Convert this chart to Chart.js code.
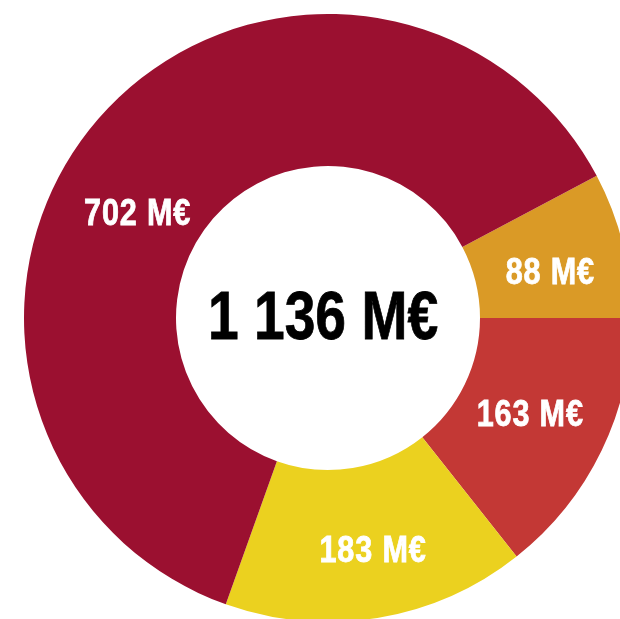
<!DOCTYPE html>
<html>
<head>
<meta charset="utf-8">
<script src="https://cdn.jsdelivr.net/npm/chart.js@4"></script>
<style>
    html, body { margin: 0; padding: 0; background: #fff; overflow: hidden; }
    body { width: 620px; height: 619px; position: relative; }
    #budgetDonut { position: absolute; left: 24px; top: 14px; }
</style>
</head>
<body>
<canvas id="budgetDonut" width="608" height="608"></canvas>
<script>
// slice values in M€, clockwise from the upper-right edge
const categories = ['Poste A', 'Poste B', 'Poste C', 'Poste D'];
const amounts = [88, 163, 183, 702];
const sliceLabels = ['88 M€', '163 M€', '183 M€', '702 M€'];
const totalLabel = '1 136 M€';

const sliceColors = ['#da9a26', '#c33835', '#ebd11f', '#9b1030'];
// small nudges (px) applied to the default label anchor of each slice
const labelNudge = [[1, 11], [-3, -1], [8, 9], [-18, 46]];

const total = amounts.reduce((a, b) => a + b, 0);
const labelFont = 'bold 36px "Liberation Sans", Arial, sans-serif';
const totalFont = 'bold 69px "Liberation Sans", Arial, sans-serif';

// no condensed face installed: squeeze the bold face horizontally
function narrowText(ctx, text, x, y, squeeze, thicken) {
    ctx.save();
    ctx.translate(x, y);
    ctx.scale(squeeze, 1);
    ctx.fillText(text, 0, 0);
    if (thicken) {
        ctx.lineWidth = thicken;
        ctx.strokeStyle = ctx.fillStyle;
        ctx.strokeText(text, 0, 0);
    }
    ctx.restore();
}

const sliceText = {
    id: 'sliceText',
    afterDraw(chart) {
        const ctx = chart.ctx;
        const arcs = chart.getDatasetMeta(0).data;
        ctx.save();
        ctx.textAlign = 'center';
        ctx.textBaseline = 'middle';
        ctx.fillStyle = '#ffffff';
        ctx.font = labelFont;
        ctx.letterSpacing = '1px';
        arcs.forEach((arc, i) => {
            const p = arc.tooltipPosition();
            narrowText(ctx, sliceLabels[i], p.x + labelNudge[i][0], p.y + labelNudge[i][1], 0.85, 0.8);
        });
        const c = arcs[0];
        ctx.fillStyle = '#000000';
        ctx.font = totalFont;
        ctx.letterSpacing = '0px';
        narrowText(ctx, totalLabel, c.x - 5, c.y + 2, 0.8, 0.8);
        ctx.restore();
    }
};

new Chart(document.getElementById('budgetDonut'), {
    type: 'doughnut',
    data: {
        labels: categories,
        datasets: [{
            data: amounts,
            backgroundColor: sliceColors,
            borderWidth: 0
        }]
    },
    options: {
        responsive: false,
        animation: false,
        cutout: '50%',
        rotation: 90 - amounts[0] / total * 360,
        layout: { padding: 0 },
        plugins: {
            legend: { display: false },
            tooltip: { enabled: false }
        }
    },
    plugins: [sliceText]
});
</script>
</body>
</html>
